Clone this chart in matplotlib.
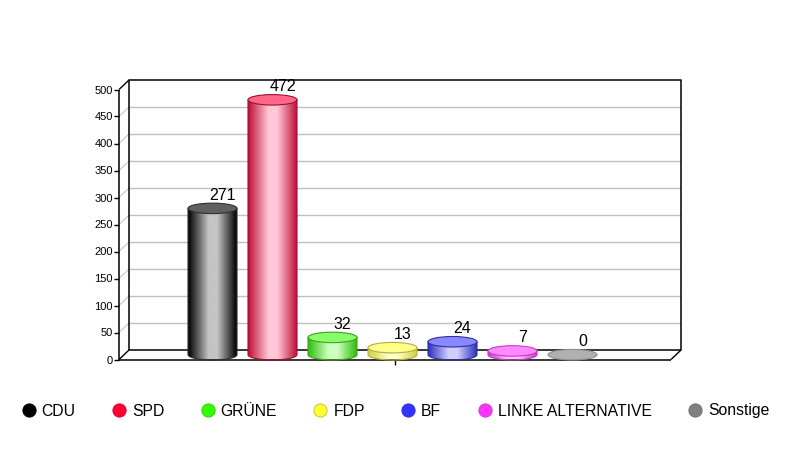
import numpy as np
import matplotlib
matplotlib.use("Agg")
import matplotlib.pyplot as plt
from matplotlib.colors import LinearSegmentedColormap
from matplotlib.lines import Line2D
from matplotlib.patches import Ellipse, PathPatch
from matplotlib.path import Path

plt.rcParams['font.family'] = ['Liberation Sans', 'DejaVu Sans']

parties = ["CDU", "SPD", "GRÜNE", "FDP", "BF", "LINKE ALTERNATIVE", "Sonstige"]
seats = [271, 472, 32, 13, 24, 7, 0]
y_ticks = [0, 50, 100, 150, 200, 250, 300, 350, 400, 450, 500]

legend_colors = ["#000000", "#ff0033", "#33ff00", "#ffff33", "#3333ff", "#ff33ff", "#808080"]
legend_edges = ["#000000", "#e00030", "#30d000", "#c8c830", "#3030e0", "#e030e0", "#707070"]
top_colors = ["#606060", "#ff6688", "#88ff66", "#ffff88", "#8888ff", "#ff88ff", "#b0b0b0"]
edge_colors = ["#303030", "#a01030", "#40a020", "#b0b040", "#3030a0", "#c040c0", "#909090"]
dark_colors = ["#000000", "#c01038", "#30c010", "#d0d040", "#3030c0", "#d030d0", "#a0a0a0"]
light_colors = ["#c4c4c4", "#ffc8d8", "#d0ffc0", "#ffffd0", "#d0d0ff", "#ffd0ff", "#c0c0c0"]

W, H = 791, 450
# front plane of the 3d box, in pixels
LEFT, RIGHT, TOP, BOTTOM = 119, 671, 89.5, 359.5
BAR_STEP = 60
FIRST_BAR = 212.5

fig = plt.figure(figsize=(W / 100, H / 100), dpi=100)
ax = fig.add_axes([LEFT / W, 1 - BOTTOM / H, (RIGHT - LEFT) / W, (BOTTOM - TOP) / H])
xlim = ((LEFT - FIRST_BAR) / BAR_STEP, (RIGHT - FIRST_BAR) / BAR_STEP)
ylim = (0, 500)
ax.axis("off")

px_x = 1 / BAR_STEP
px_y = 500 / (BOTTOM - TOP)
depth_x, depth_y = 10 * px_x, 9.5 * px_y
x0, x1 = xlim


def line(xs, ys, color="black", lw=1.0, z=1):
    ax.plot(xs, ys, color=color, lw=lw, clip_on=False, zorder=z, solid_capstyle="butt")


# grid on the back wall and side wall
for v in y_ticks[1:-1]:
    line([x0 + depth_x, x1 + depth_x], [v + depth_y, v + depth_y], "#c0c0c0", 1.0)
    line([x0, x0 + depth_x], [v, v + depth_y], "#c8c8c8", 0.8)

# box outline
line([x0 + depth_x, x1 + depth_x, x1 + depth_x, x0 + depth_x, x0 + depth_x],
     [depth_y, depth_y, 500 + depth_y, 500 + depth_y, depth_y], lw=1.1, z=2)
line([x0, x0], [0, 500], lw=1.1, z=2)
line([x0, x0 + depth_x], [500, 500 + depth_y], lw=1.0, z=2)
line([x0, x0 + depth_x], [0, depth_y], lw=1.0, z=2)
line([x1, x1 + depth_x], [0, depth_y], lw=1.0, z=2)
line([x0, x1], [0, 0], lw=1.1, z=2)

# ticks
for v in y_ticks:
    line([x0 - 5 * px_x, x0], [v, v], lw=1.0, z=2)
    ax.text(x0 - 6 * px_x, v - 1 * px_y, str(v), ha="right", va="center", fontsize=8, color="black")
line([3.04, 3.04], [0, -5 * px_y], lw=1.0, z=2)

# cylinders
half_w = 24.5 * px_x
ell_h = 10.5 * px_y
base = 4.8 * px_y
for i, v in enumerate(seats):
    top = base + v
    if v > 0:
        t = np.linspace(np.pi, 2 * np.pi, 40)
        xs = i + half_w * np.cos(t)
        ys = base + ell_h / 2 * np.sin(t)
        verts = [(i - half_w, top)] + list(zip(xs, ys)) + [(i + half_w, top), (i - half_w, top)]
        codes = [Path.MOVETO] + [Path.LINETO] * (len(verts) - 2) + [Path.CLOSEPOLY]
        body = PathPatch(Path(verts, codes), fc="none", ec=edge_colors[i], lw=0.8, zorder=4, clip_on=False)
        ax.add_patch(body)
        cmap = LinearSegmentedColormap.from_list(
            "c", [(0, dark_colors[i]), (0.42, light_colors[i]), (0.6, light_colors[i]), (1, dark_colors[i])])
        shade = np.linspace(0, 1, 96)[None, :]
        img = ax.imshow(shade, cmap=cmap, extent=(i - half_w, i + half_w, -ell_h, top), aspect="auto",
                        zorder=3, interpolation="bilinear")
        img.set_clip_path(body)
    ax.add_patch(Ellipse((i, top), 2 * half_w, ell_h, fc=top_colors[i], ec=edge_colors[i], lw=0.8,
                         zorder=5, clip_on=False))
    ax.text(i + 10 * px_x, top + 8.5 * px_y, str(v), ha="center", va="baseline", fontsize=11.5,
            color="black", zorder=6)

ax.set_xlim(xlim)
ax.set_ylim(ylim)

handles = [Line2D([], [], ls="none", marker="o", ms=9.5, mfc=c, mec=e, mew=0.7)
           for c, e in zip(legend_colors, legend_edges)]
fig.legend(handles, parties, loc="center", bbox_to_anchor=(395 / W, 1 - 411 / H), ncol=7, frameon=False,
           fontsize=11.35, handlelength=1.0, handletextpad=0.33, columnspacing=2.24, borderpad=0, borderaxespad=0)

fig.savefig("out.png", dpi=100, facecolor="white")
